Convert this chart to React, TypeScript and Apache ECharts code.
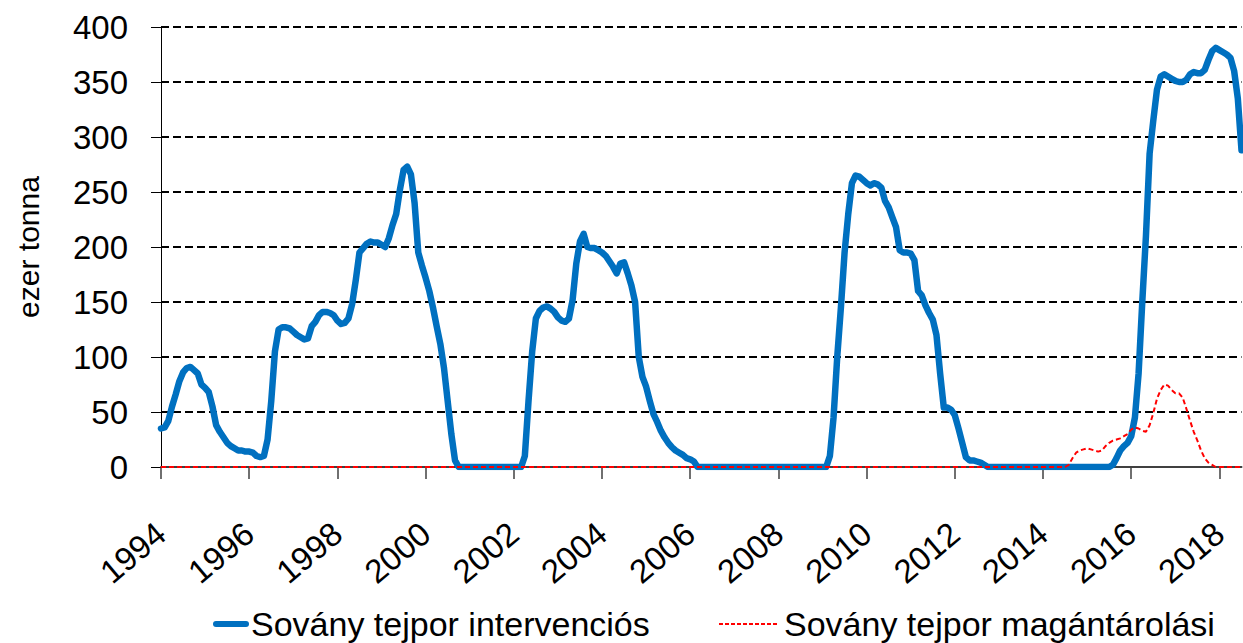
import { useEffect, useRef } from "react";
import * as echarts from "echarts";

const startYear = 1994;
const seriesNames = ["Sovány tejpor intervenciós", "Sovány tejpor magántárolási"];
const yAxisName = "ezer tonna";

// monthly stocks, thousand tonnes (Jan 1994 - Jul 2018)
const intervention = [
  35, 36, 42, 55, 66, 78, 86, 90, 91, 88, 85, 75, // 1994
  72, 68, 55, 38, 32, 27, 22, 19, 17, 15, 15, 14, // 1995
  14, 13, 10, 9, 10, 25, 60, 105, 125, 127, 127, 126, // 1996
  123, 120, 118, 116, 117, 128, 132, 138, 141, 141, 140, 138, // 1997
  133, 130, 131, 135, 148, 170, 195, 199, 203, 205, 204, 204, // 1998
  202, 200, 208, 220, 230, 252, 270, 273, 266, 240, 195, 183, // 1999
  172, 160, 145, 128, 112, 90, 60, 30, 6, 0, 0, 0, // 2000
  0, 0, 0, 0, 0, 0, 0, 0, 0, 0, 0, 0, // 2001
  0, 0, 0, 10, 60, 105, 135, 142, 145, 146, 144, 141, // 2002
  136, 133, 132, 135, 152, 185, 205, 212, 200, 199, 199, 197, // 2003
  195, 192, 187, 182, 176, 185, 186, 176, 165, 150, 100, 82, // 2004
  73, 60, 48, 41, 33, 27, 22, 18, 15, 13, 11, 8, // 2005
  7, 5, 0, 0, 0, 0, 0, 0, 0, 0, 0, 0, // 2006
  0, 0, 0, 0, 0, 0, 0, 0, 0, 0, 0, 0, // 2007
  0, 0, 0, 0, 0, 0, 0, 0, 0, 0, 0, 0, // 2008
  0, 0, 10, 45, 100, 145, 195, 230, 258, 265, 264, 261, // 2009
  258, 256, 258, 257, 254, 242, 236, 227, 218, 197, 195, 195, // 2010
  194, 188, 160, 156, 147, 140, 134, 120, 85, 54, 54, 52, // 2011
  47, 35, 22, 9, 6, 6, 5, 4, 2, 0, 0, 0, // 2012
  0, 0, 0, 0, 0, 0, 0, 0, 0, 0, 0, 0, // 2013
  0, 0, 0, 0, 0, 0, 0, 0, 0, 0, 0, 0, // 2014
  0, 0, 0, 0, 0, 0, 0, 2, 8, 15, 19, 22, // 2015
  28, 45, 85, 150, 210, 285, 315, 343, 355, 357, 355, 353, // 2016
  351, 350, 350, 352, 357, 359, 358, 358, 361, 370, 378, 381, // 2017
  379, 377, 375, 372, 360, 335, 288, // 2018
];

const privateStorage = [
  0, 0, 0, 0, 0, 0, 0, 0, 0, 0, 0, 0, // 1994
  0, 0, 0, 0, 0, 0, 0, 0, 0, 0, 0, 0, // 1995
  0, 0, 0, 0, 0, 0, 0, 0, 0, 0, 0, 0, // 1996
  0, 0, 0, 0, 0, 0, 0, 0, 0, 0, 0, 0, // 1997
  0, 0, 0, 0, 0, 0, 0, 0, 0, 0, 0, 0, // 1998
  0, 0, 0, 0, 0, 0, 0, 0, 0, 0, 0, 0, // 1999
  0, 0, 0, 0, 0, 0, 0, 0, 0, 0, 0, 0, // 2000
  0, 0, 0, 0, 0, 0, 0, 0, 0, 0, 0, 0, // 2001
  0, 0, 0, 0, 0, 0, 0, 0, 0, 0, 0, 0, // 2002
  0, 0, 0, 0, 0, 0, 0, 0, 0, 0, 0, 0, // 2003
  0, 0, 0, 0, 0, 0, 0, 0, 0, 0, 0, 0, // 2004
  0, 0, 0, 0, 0, 0, 0, 0, 0, 0, 0, 0, // 2005
  0, 0, 0, 0, 0, 0, 0, 0, 0, 0, 0, 0, // 2006
  0, 0, 0, 0, 0, 0, 0, 0, 0, 0, 0, 0, // 2007
  0, 0, 0, 0, 0, 0, 0, 0, 0, 0, 0, 0, // 2008
  0, 0, 0, 0, 0, 0, 0, 0, 0, 0, 0, 0, // 2009
  0, 0, 0, 0, 0, 0, 0, 0, 0, 0, 0, 0, // 2010
  0, 0, 0, 0, 0, 0, 0, 0, 0, 0, 0, 0, // 2011
  0, 0, 0, 0, 0, 0, 0, 0, 0, 0, 0, 0, // 2012
  0, 0, 0, 0, 0, 0, 0, 0, 0, 0, 0, 0, // 2013
  0, 0, 0, 0, 0, 0, 0, 2, 8, 13, 15, 16, // 2014
  17, 16, 15, 14, 15, 19, 22, 24, 25, 26, 28, 30, // 2015
  34, 36, 35, 33, 32, 38, 49, 62, 70, 75, 74, 70, // 2016
  67, 67, 63, 53, 42, 32, 24, 15, 8, 4, 2, 0, // 2017
  0, 0, 0, 0, 0, 0, 0, // 2018
];

const months = intervention.map(
  (_, i) => `${startYear + Math.floor(i / 12)}-${String((i % 12) + 1).padStart(2, "0")}`
);

const FONT = "'Liberation Sans', Arial, sans-serif";

export default function App() {
  const ref = useRef<HTMLDivElement>(null);
  useEffect(() => {
    if (!ref.current) return;
    const chart = echarts.init(ref.current, null, { renderer: "svg" });
    chart.setOption({
      animation: false,
      backgroundColor: "#ffffff",
      textStyle: { fontFamily: FONT },
      grid: {
        left: 161,
        top: 27,
        right: 1.5,
        bottom: 176,
        containLabel: false,
        outerBoundsMode: "none",
      },
      legend: [
        {
          data: [seriesNames[0]],
          left: 213,
          top: 607,
          padding: 0,
          itemWidth: 30,
          itemHeight: 14,
          itemStyle: { opacity: 0 },
          lineStyle: { width: 6, cap: "round" },
          textStyle: { fontSize: 34, color: "#000", fontFamily: FONT },
        },
        {
          data: [seriesNames[1]],
          left: 718,
          top: 607,
          padding: 0,
          itemWidth: 60,
          itemHeight: 14,
          itemStyle: { opacity: 0 },
          lineStyle: { width: 2, type: [4, 2] },
          textStyle: { fontSize: 34, color: "#000", fontFamily: FONT },
        },
      ],
      xAxis: {
        type: "category",
        data: months,
        boundaryGap: false,
        axisLine: { show: true, lineStyle: { color: "#404040", width: 2 } },
        axisTick: { show: true, interval: 23, length: 12, lineStyle: { color: "#404040", width: 1.5 } },
        axisLabel: {
          interval: 23,
          rotate: 40,
          margin: 62,
          fontSize: 33,
          color: "#000",
          fontFamily: FONT,
          formatter: (v: string) => v.slice(0, 4),
        },
        splitLine: { show: false },
      },
      yAxis: {
        type: "value",
        min: 0,
        max: 400,
        interval: 50,
        name: yAxisName,
        nameLocation: "middle",
        nameRotate: 90,
        nameGap: 118,
        nameTextStyle: { fontSize: 30, color: "#000", fontFamily: FONT },
        axisLine: { show: true, lineStyle: { color: "#000", width: 1 } },
        axisTick: { show: true, length: 10, lineStyle: { color: "#000", width: 1 } },
        axisLabel: { fontSize: 33, color: "#000", margin: 33, fontFamily: FONT },
        splitLine: { show: true, lineStyle: { color: "#000", width: 2, type: [8, 4] } },
      },
      series: [
        {
          name: seriesNames[0],
          type: "line",
          data: intervention,
          symbol: "none",
          lineStyle: { color: "#0070C0", width: 6.5, join: "round", cap: "round" },
          itemStyle: { color: "#0070C0" },
          z: 2,
        },
        {
          name: seriesNames[1],
          type: "line",
          data: privateStorage,
          symbol: "none",
          lineStyle: { color: "#FF0000", width: 2, type: [5, 3] },
          itemStyle: { color: "#FF0000" },
          z: 3,
        },
      ],
    });
    return () => chart.dispose();
  }, []);
  return (
    <div
      ref={ref}
      style={{ position: "fixed", left: 0, top: 0, width: 1243, height: 643, background: "#fff" }}
    />
  );
}
